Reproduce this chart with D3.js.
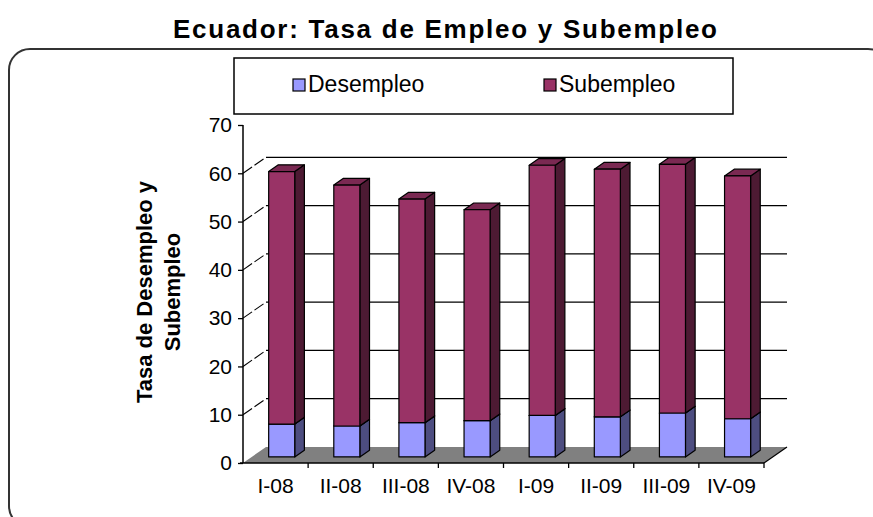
<!DOCTYPE html>
<html>
<head>
<meta charset="utf-8">
<script src="https://cdn.jsdelivr.net/npm/d3@7"></script>
<style>
  html, body { margin: 0; padding: 0; background: #fff; }
  svg { display: block; }
  text { font-family: "Liberation Sans", Arial, sans-serif; fill: #000; }
</style>
</head>
<body>
<svg id="chart" width="873" height="517"></svg>
<script>
// Quarterly labour-market figures, Ecuador 2008-2009 (%)
const categories = ["I-08", "II-08", "III-08", "IV-08", "I-09", "II-09", "III-09", "IV-09"];
const desempleo = [6.8, 6.4, 7.1, 7.5, 8.6, 8.3, 9.1, 7.9];
const subempleo = [52.3, 49.9, 46.3, 43.7, 51.8, 51.3, 51.5, 50.3];
const seriesNames = ["Desempleo", "Subempleo"];
const yTicks = [0, 10, 20, 30, 40, 50, 60, 70];
const gridValues = [10, 20, 30, 40, 50, 60];

const svg = d3.select("#chart");

// colours: front / side / top faces
const faces = {
  Desempleo: { front: "#9999FF", side: "#4D4D80", top: "#7A7ACC" },
  Subempleo: { front: "#993366", side: "#4D1A33", top: "#7A2952" }
};

// 3-D oblique projection: depth vector for the full floor depth
const depth = { dx: 23, dy: -16 };
const x = d3.scaleBand().domain(categories).range([243, 764]).padding(0);
const y = d3.scaleLinear().domain([0, 70]).range([463, 125]);
const P = (px, v, f) => [px + depth.dx * f, y(v) + depth.dy * f];

// chart frame
svg.append("rect")
  .attr("x", 9).attr("y", 49).attr("width", 880).attr("height", 478)
  .attr("rx", 21).attr("ry", 21)
  .attr("fill", "#fff").attr("stroke", "#333").attr("stroke-width", 2);

// title
svg.append("text")
  .attr("x", 445).attr("y", 38)
  .attr("text-anchor", "middle")
  .attr("font-size", 26).attr("font-weight", "bold")
  .attr("textLength", 544).attr("lengthAdjust", "spacing")
  .text("Ecuador: Tasa de Empleo y Subempleo");

const x0 = x.range()[0], x1 = x.range()[1];

// floor
svg.append("polygon")
  .attr("points", [P(x0, 0, 0), P(x1, 0, 0), P(x1, 0, 1), P(x0, 0, 1)].map(p => p.join(",")).join(" "))
  .attr("fill", "#808080");

// back wall gridlines
svg.append("g").selectAll("line").data(gridValues).join("line")
  .attr("x1", d => P(x0, d, 1)[0]).attr("y1", d => P(x0, d, 1)[1])
  .attr("x2", d => P(x1, d, 1)[0]).attr("y2", d => P(x1, d, 1)[1])
  .attr("stroke", "#000").attr("stroke-width", 1.3);

// side-wall connectors from the value axis to the back wall
svg.append("g").selectAll("line").data(gridValues).join("line")
  .attr("x1", d => P(x0, d, 0)[0]).attr("y1", d => P(x0, d, 0)[1])
  .attr("x2", d => P(x0, d, 1)[0]).attr("y2", d => P(x0, d, 1)[1])
  .attr("stroke", "#000").attr("stroke-width", 1.1)
  .attr("stroke-dasharray", "11,3");

// right floor edge
svg.append("line")
  .attr("x1", P(x1, 0, 0)[0]).attr("y1", P(x1, 0, 0)[1])
  .attr("x2", P(x1, 0, 1)[0]).attr("y2", P(x1, 0, 1)[1])
  .attr("stroke", "#000").attr("stroke-width", 1.2);

// value axis
const yAxis = svg.append("g").attr("transform", `translate(${x0},0)`)
  .call(d3.axisLeft(y).tickValues(yTicks).tickSize(5).tickPadding(6).tickFormat(d3.format("d")));
yAxis.select(".domain").attr("d", `M0,${y(70)}V${y(0)}`).attr("stroke", "#000").attr("stroke-width", 1.5);
yAxis.selectAll(".tick line").attr("stroke", "#000").attr("stroke-width", 1.3);
yAxis.selectAll(".tick text")
  .attr("font-family", "'Liberation Sans', Arial, sans-serif")
  .attr("font-size", 21).attr("fill", "#000");

// category axis
const xAxis = svg.append("g").attr("transform", `translate(0,${y(0)})`)
  .call(d3.axisBottom(x).tickSize(0).tickPadding(15));
xAxis.select(".domain").attr("d", `M${x0 - 3},0H${x1}`).attr("stroke", "#000").attr("stroke-width", 1.5);
xAxis.selectAll(".tick text")
  .attr("font-family", "'Liberation Sans', Arial, sans-serif")
  .attr("font-size", 21).attr("fill", "#000");
svg.append("g").selectAll("line").data(categories).join("line")
  .attr("x1", d => x(d) + x.bandwidth())
  .attr("x2", d => x(d) + x.bandwidth())
  .attr("y1", y(0)).attr("y2", y(0) + 5)
  .attr("stroke", "#000").attr("stroke-width", 1.3);

// stacked 3-D columns
const rows = categories.map((c, i) => ({ cat: c, Desempleo: desempleo[i], Subempleo: subempleo[i] }));
const stacked = d3.stack().keys(seriesNames)(rows);
const fFront = 0.38, fBack = 0.80;
const barW = x.bandwidth() * 0.4;
const bars = svg.append("g");
const pts = arr => arr.map(p => p.join(",")).join(" ");

rows.forEach((row, i) => {
  stacked.forEach(layer => {
    const seg = layer[i];
    const c = faces[layer.key];
    const bx0 = x(row.cat) + x.bandwidth() * 0.26;
    const bx1 = bx0 + barW;
    const g = bars.append("g")
      .attr("stroke", "#000").attr("stroke-width", 1.2).attr("stroke-linejoin", "round");
    // side face
    g.append("polygon").attr("fill", c.side)
      .attr("points", pts([P(bx1, seg[0], fFront), P(bx1, seg[0], fBack), P(bx1, seg[1], fBack), P(bx1, seg[1], fFront)]));
    // top face
    g.append("polygon").attr("fill", c.top)
      .attr("points", pts([P(bx0, seg[1], fFront), P(bx1, seg[1], fFront), P(bx1, seg[1], fBack), P(bx0, seg[1], fBack)]));
    // front face
    g.append("polygon").attr("fill", c.front)
      .attr("points", pts([P(bx0, seg[0], fFront), P(bx1, seg[0], fFront), P(bx1, seg[1], fFront), P(bx0, seg[1], fFront)]));
  });
});

// value-axis title
const yTitle = svg.append("text")
  .attr("transform", "translate(152,292) rotate(-90)")
  .attr("text-anchor", "middle")
  .attr("font-size", 22).attr("font-weight", "bold");
yTitle.append("tspan").attr("x", 0).attr("dy", 0).text("Tasa de Desempleo y");
yTitle.append("tspan").attr("x", 0).attr("dy", 28).text("Subempleo");

// legend
const legend = svg.append("g");
legend.append("rect")
  .attr("x", 234).attr("y", 58).attr("width", 499).attr("height", 56)
  .attr("fill", "#fff").attr("stroke", "#000").attr("stroke-width", 1.5);
const legendX = [293, 544];
const items = legend.selectAll("g.item").data(seriesNames).join("g")
  .attr("class", "item")
  .attr("transform", (d, i) => `translate(${legendX[i]},79)`);
items.append("rect")
  .attr("width", 12).attr("height", 12)
  .attr("fill", d => faces[d].front).attr("stroke", "#000").attr("stroke-width", 1.2);
items.append("text")
  .attr("x", 15).attr("y", 13)
  .attr("font-size", 23)
  .text(d => d);
</script>
</body>
</html>
